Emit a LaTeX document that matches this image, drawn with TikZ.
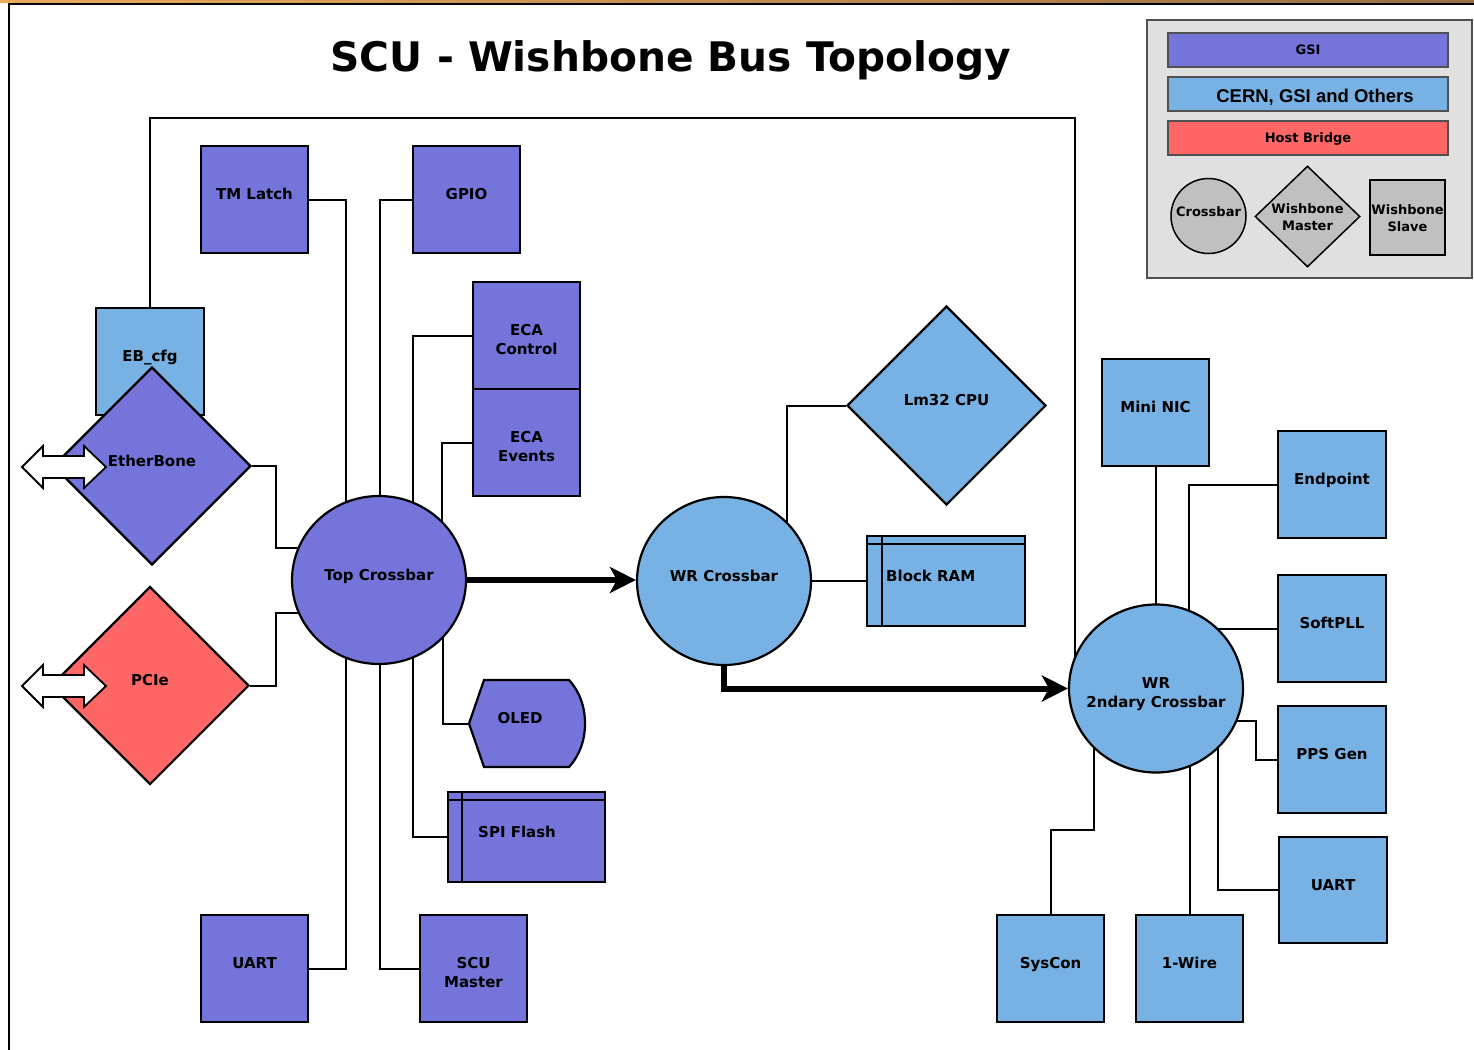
\documentclass[tikz,border=0pt]{standalone}
\usepackage{fontspec}
\setmainfont{DejaVu Sans}
\newfontfamily\arialfont{Liberation Sans}
\usetikzlibrary{shapes.geometric,arrows.meta,backgrounds}
\definecolor{gsi}{RGB}{116,116,218}
\definecolor{cern}{RGB}{120,178,228}
\definecolor{host}{RGB}{255,102,102}
\definecolor{legbg}{RGB}{224,224,224}
\definecolor{leggray}{RGB}{192,192,192}
\definecolor{legline}{RGB}{80,80,80}
\definecolor{stripL}{RGB}{236,170,90}
\definecolor{stripR}{RGB}{150,110,70}
\begin{document}
\begin{tikzpicture}[x=1pt,y=-1pt,
  lbl/.style={font=\fontsize{15}{19}\selectfont\bfseries},
  small/.style={font=\fontsize{13}{17}\selectfont\bfseries},
  basenode/.style={lbl, draw, line width=2.2pt, inner sep=0pt, text height=11pt, text depth=11pt, align=center},
  twoline/.style={text height=49pt, text depth=11pt},
  box/.style={basenode, rectangle, minimum width=107pt, minimum height=107pt},
  dia/.style={basenode, diamond, minimum width=198pt, minimum height=198pt},
  xbar/.style={basenode, ellipse, minimum width=174pt, minimum height=168pt},
  memline/.style={line width=2.2pt},
  conn/.style={line width=2pt},
  busarrow/.style={line width=6pt, -{Stealth[length=26pt,width=26pt,inset=7pt]}},
  extarrow/.style={draw, line width=1.8pt, fill=white},
  legbar/.style={small, draw=legline, line width=1.5pt, rectangle, minimum width=280pt, minimum height=34pt, inner sep=0pt, text height=9.5pt, text depth=0pt},
  legshape/.style={small, draw, line width=1.5pt, fill=leggray, inner sep=0pt, align=center, text height=9.5pt, text depth=9.5pt},
]
\useasboundingbox (0,0) rectangle (1474,1049);
\shade[left color=stripL, right color=stripR] (0,0) rectangle (1474,2.5);
\draw[line width=1.5pt] (9,1060) -- (9,4) -- (1480,4);

% title
\node[font=\fontsize{40.7}{48}\selectfont\bfseries, anchor=base] (title) at (671,71) {SCU - Wishbone Bus Topology};

% GSI slaves
\node[box, fill=gsi] (tml) at (254.5,199.5) {TM Latch};
\node[box, fill=gsi] (gpio) at (466.5,199.5) {GPIO};
\node[box, twoline, fill=gsi] (ecac) at (526.5,335.5) {ECA\\Control};
\node[box, twoline, fill=gsi] (ecae) at (526.5,442.5) {ECA\\Events};
\node[box, fill=gsi] (uartl) at (254.5,968.5) {UART};
\node[box, twoline, fill=gsi] (scum) at (473.5,968.5) {SCU\\Master};

% host bridges
\node[box, fill=cern, minimum width=108pt] (ebcfg) at (150,361.5) {EB\_cfg};
\node[dia, fill=gsi] (eb) at (152,466) {EtherBone};
\node[dia, fill=host] (pcie) at (150,685.5) {PCIe};
\draw[extarrow, shift={(64,467)}] (-42,0) -- (-21,-21) -- (-21,-11) -- (20,-11) -- (20,-21) -- (42,0) -- (20,21) -- (20,11) -- (-21,11) -- (-21,21) -- cycle;
\draw[extarrow, shift={(64,686)}] (-42,0) -- (-21,-21) -- (-21,-11) -- (20,-11) -- (20,-21) -- (42,0) -- (20,21) -- (20,11) -- (-21,11) -- (-21,21) -- cycle;

% crossbars
\node[xbar, fill=gsi] (topx) at (379,580) {Top Crossbar};
\node[xbar, fill=cern] (wrx) at (724,581) {WR Crossbar};
\node[xbar, fill=cern] (wr2) at (1156,688.5) {};
\node[lbl, align=center, anchor=base, inner sep=0pt] (wr2t) at (1156,707.5) {WR\\2ndary Crossbar};

% OLED
\draw[line width=2.2pt, fill=gsi] (469,723.5) -- (484,680) -- (569,680)
  .. controls (580,692) and (585,707) .. (585,723.5)
  .. controls (585,740) and (580,755) .. (569,767) -- (484,767) -- cycle;
\node[inner sep=0pt, minimum width=116pt, minimum height=87pt] (oled) at (527,723.5) {};
\node[lbl, anchor=base] (oledt) at (520,723.5) {OLED};

% SPI Flash
\node[box, fill=gsi, minimum width=157pt, minimum height=90pt] (spi) at (526.5,837) {};
\draw[memline] ([xshift=15pt]spi.north west) -- ([xshift=15pt]spi.south west);
\draw[memline] ([yshift=-9pt]spi.north west) -- ([yshift=-9pt]spi.north east);
\node[lbl, anchor=base west, inner sep=0pt] (spit) at (478,837) {SPI Flash};

% WR core
\node[dia, fill=cern, minimum width=199pt, minimum height=199pt] (lm) at (946.5,405.5) {Lm32 CPU};
\node[box, fill=cern, minimum width=158pt, minimum height=90pt] (bram) at (946,581) {};
\draw[memline] ([xshift=16pt]bram.north west) -- ([xshift=16pt]bram.south west);
\draw[memline] ([yshift=-9pt]bram.north west) -- ([yshift=-9pt]bram.north east);
\node[lbl, anchor=base west, inner sep=0pt] (bramt) at (886,581) {Block RAM};

\node[box, fill=cern] (mnic) at (1155.5,412.5) {Mini NIC};
\node[box, fill=cern, minimum width=108pt] (endp) at (1332,484.5) {Endpoint};
\node[box, fill=cern, minimum width=108pt] (spll) at (1332,628.5) {SoftPLL};
\node[box, fill=cern, minimum width=108pt] (pps) at (1332,759.5) {PPS Gen};
\node[box, fill=cern, minimum width=108pt, minimum height=106pt] (uartr) at (1333,890) {UART};
\node[box, fill=cern] (sysc) at (1050.5,968.5) {SysCon};
\node[box, fill=cern] (onew) at (1189.5,968.5) {1-Wire};

% legend
\node[draw=legline, line width=1.5pt, fill=legbg, minimum width=325pt, minimum height=258pt, inner sep=0pt] (legend) at (1309.5,149) {};
\node[legbar, fill=gsi] (lgsi) at (1308,50) {GSI};
\node[legbar, fill=cern] (lcern) at (1308,94) {};
\node[font=\arialfont\fontsize{18.5}{22}\selectfont\bfseries, anchor=base, inner sep=0pt] (lcernt) at (1315,102.5) {CERN, GSI and Others};
\node[legbar, fill=host] (lhost) at (1308,138) {Host Bridge};
\node[legshape, circle, minimum size=75pt] (lxbar) at (1208.5,216) {Crossbar};
\node[legshape, diamond, minimum width=105pt, minimum height=101pt] (lmaster) at (1307.5,216.5) {};
\node[small, align=center, anchor=base, inner sep=0pt] (lmastert) at (1307.5,230) {Wishbone\\Master};
\node[legshape, rectangle, minimum width=75pt, minimum height=75pt] (lslave) at (1407.5,217.5) {};
\node[small, align=center, anchor=base, inner sep=0pt] (lslavet) at (1407.5,231) {Wishbone\\Slave};

% connectors
\begin{pgfonlayer}{background}
\draw[conn] (tml.east) -| ([xshift=-33pt]topx.center);
\draw[conn] (gpio.west) -| ([xshift=1pt]topx.center);
\draw[conn] (ecac.west) -| ([xshift=34pt]topx.center);
\draw[conn] (ecae.west) -| ([xshift=63pt]topx.center);
\draw[conn] (eb.east) -- ++(24,0) |- ([yshift=32pt]topx.center);
\draw[conn] (pcie.east) -- ++(26,0) |- ([yshift=-33pt]topx.center);
\draw[conn] (uartl.east) -| ([xshift=-33pt]topx.center);
\draw[conn] (scum.west) -| ([xshift=1pt]topx.center);
\draw[conn] (spi.west) -| ([xshift=34pt]topx.center);
\draw[conn] (oled.west) -| ([xshift=64pt]topx.center);
\draw[busarrow] (topx.east) -- (wrx.west |- topx.east);
\draw[conn] (lm.west) -| ([xshift=63pt]wrx.center);
\draw[conn] (wrx.east) -- (bram.west);
\draw[busarrow] (wrx.south) |- (wr2.west);
\draw[conn] (mnic.south) -- (mnic.south |- wr2.center);
\draw[conn] (endp.west) -| ([xshift=33pt]wr2.center);
\draw[conn] (spll.west) -- (spll.west -| wr2.center);
\draw[conn] (pps.west) -- ++(-21,0) |- ([yshift=-32.5pt]wr2.center);
\draw[conn] (uartr.west) -| ([xshift=62pt]wr2.center);
\draw[conn] (onew.north) -- (onew.north |- wr2.center);
\draw[conn] (sysc.north) -- ++(0,-84) -| ([xshift=-62pt]wr2.center);
\draw[conn] (ebcfg.north) -- ++(0,-189) -| ([xshift=-81pt]wr2.center);
\end{pgfonlayer}
\end{tikzpicture}
\end{document}
